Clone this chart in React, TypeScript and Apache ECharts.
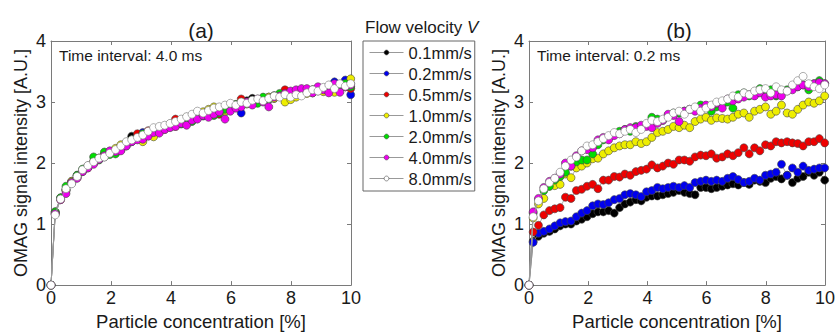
import React, { useEffect, useRef } from "react";
import * as echarts from "echarts";

const xs = [0, 0.14, 0.32, 0.5, 0.69, 0.87, 1.05, 1.23, 1.42, 1.6, 1.78, 1.96, 2.15, 2.33, 2.51, 2.69, 2.88, 3.06, 3.24, 3.42, 3.61, 3.79, 3.97, 4.15, 4.34, 4.52, 4.7, 4.88, 5.07, 5.25, 5.43, 5.61, 5.8, 5.98, 6.16, 6.34, 6.53, 6.71, 6.89, 7.07, 7.26, 7.44, 7.62, 7.8, 7.99, 8.17, 8.35, 8.53, 8.72, 8.9, 9.08, 9.26, 9.45, 9.63, 9.81, 9.99];

const seriesNames = ["0.1mm/s", "0.2mm/s", "0.5mm/s", "1.0mm/s", "2.0mm/s", "4.0mm/s", "8.0mm/s"];
const seriesColors = ["#000000", "#0000ee", "#ee0000", "#eeee00", "#00dd00", "#ee00ee", "#ffffff"];

// Panel (a): time interval 4.0 ms
const a01 = [0, 1.2, 1.43, 1.57, 1.7, 1.8, 1.86, 1.95, 2.0, 2.08, 2.1, 2.18, 2.2, 2.26, 2.33, 2.44, 2.41, 2.46, 2.52, 2.5, 2.56, 2.6, 2.6, 2.66, 2.65, 2.7, 2.75, 2.74, 2.8, 2.8, 2.85, 2.84, 2.9, 2.92, 2.95, 2.97, 3.02, 3.06, 3.0, 3.05, 3.04, 3.1, 3.12, 3.1, 3.15, 3.14, 3.18, 3.17, 3.2, 3.23, 3.2, 3.26, 3.24, 3.28, 3.25, 3.3];
const a02 = [0, 1.17, 1.42, 1.55, 1.67, 1.79, 1.88, 1.93, 2.02, 2.06, 2.13, 2.16, 2.21, 2.28, 2.3, 2.35, 2.42, 2.5, 2.47, 2.53, 2.55, 2.6, 2.59, 2.63, 2.68, 2.66, 2.72, 2.78, 2.77, 2.8, 2.83, 2.88, 2.85, 2.92, 2.93, 2.82, 2.97, 3.0, 3.03, 3.02, 3.08, 3.06, 3.1, 3.13, 3.12, 3.17, 3.14, 3.2, 3.18, 3.22, 3.2, 3.26, 3.33, 3.24, 3.36, 3.12];
const a05 = [0, 1.19, 1.41, 1.56, 1.69, 1.77, 1.88, 1.95, 2.0, 2.07, 2.14, 2.17, 2.21, 2.26, 2.32, 2.37, 2.48, 2.46, 2.53, 2.5, 2.57, 2.6, 2.63, 2.72, 2.66, 2.7, 2.74, 2.78, 2.8, 2.84, 2.82, 2.8, 2.9, 2.93, 2.92, 3.05, 2.99, 3.02, 3.04, 3.06, 3.05, 3.1, 3.12, 3.2, 3.15, 3.17, 3.14, 3.2, 3.16, 3.22, 3.18, 3.24, 3.22, 3.26, 3.25, 3.22];
const a10 = [0, 1.16, 1.4, 1.55, 1.7, 1.76, 1.87, 1.92, 2.03, 2.08, 2.14, 2.19, 2.24, 2.3, 2.34, 2.38, 2.4, 2.35, 2.45, 2.43, 2.58, 2.55, 2.64, 2.6, 2.7, 2.75, 2.78, 2.82, 2.84, 2.88, 2.92, 2.88, 2.85, 2.94, 2.96, 3.0, 2.97, 3.0, 2.99, 3.03, 3.08, 3.06, 3.1, 3.0, 3.04, 3.08, 3.12, 3.14, 3.15, 3.18, 3.17, 3.2, 3.16, 3.25, 3.3, 3.38];
const a20 = [0, 1.2, 1.43, 1.62, 1.68, 1.8, 1.9, 1.95, 2.1, 2.05, 2.18, 2.14, 2.15, 2.22, 2.28, 2.38, 2.4, 2.48, 2.46, 2.55, 2.53, 2.58, 2.62, 2.65, 2.64, 2.7, 2.68, 2.75, 2.78, 2.85, 2.78, 2.82, 2.88, 2.92, 2.96, 2.95, 2.98, 3.02, 2.98, 3.08, 3.05, 3.1, 3.14, 3.12, 3.16, 3.12, 3.18, 3.16, 3.2, 3.22, 3.22, 3.24, 3.26, 3.28, 3.3, 3.25];
const a40 = [0, 1.17, 1.4, 1.5, 1.68, 1.75, 1.86, 1.92, 1.98, 2.06, 2.12, 2.2, 2.19, 2.2, 2.28, 2.35, 2.38, 2.39, 2.44, 2.5, 2.49, 2.55, 2.58, 2.6, 2.65, 2.62, 2.7, 2.72, 2.78, 2.75, 2.8, 2.84, 2.72, 2.85, 2.9, 2.92, 3.0, 2.95, 3.05, 3.0, 2.92, 3.08, 3.1, 3.14, 3.18, 3.2, 3.22, 3.22, 3.15, 3.25, 3.2, 3.15, 3.3, 3.16, 3.25, 3.28];
const a80 = [0, 1.15, 1.41, 1.58, 1.66, 1.78, 1.89, 1.96, 2.02, 2.08, 2.1, 2.16, 2.22, 2.28, 2.35, 2.38, 2.42, 2.46, 2.52, 2.58, 2.6, 2.62, 2.65, 2.68, 2.72, 2.76, 2.8, 2.85, 2.82, 2.86, 2.9, 2.92, 2.95, 2.98, 2.95, 3.0, 2.98, 3.03, 3.05, 3.02, 3.06, 3.1, 3.08, 3.12, 3.08, 3.12, 3.1, 3.15, 3.2, 3.18, 3.24, 3.28, 3.22, 3.3, 3.26, 3.3];

// Panel (b): time interval 0.2 ms
const b01 = [0, 0.72, 0.8, 0.85, 0.88, 0.92, 0.97, 1.0, 1.0, 1.05, 1.08, 1.12, 1.17, 1.2, 1.2, 1.22, 1.18, 1.27, 1.33, 1.36, 1.4, 1.38, 1.44, 1.46, 1.46, 1.48, 1.5, 1.52, 1.55, 1.52, 1.5, 1.48, 1.6, 1.6, 1.58, 1.6, 1.62, 1.64, 1.66, 1.64, 1.68, 1.65, 1.72, 1.7, 1.68, 1.75, 1.78, 1.74, 1.8, 1.68, 1.75, 1.78, 1.85, 1.8, 1.85, 1.72];
const b02 = [0, 0.7, 0.85, 0.88, 0.92, 0.97, 1.02, 1.04, 1.05, 1.12, 1.18, 1.22, 1.3, 1.33, 1.32, 1.35, 1.4, 1.42, 1.48, 1.5, 1.48, 1.45, 1.53, 1.55, 1.6, 1.58, 1.6, 1.62, 1.6, 1.63, 1.6, 1.68, 1.7, 1.72, 1.7, 1.72, 1.7, 1.75, 1.78, 1.73, 1.68, 1.7, 1.75, 1.72, 1.8, 1.82, 1.85, 1.98, 1.8, 1.92, 1.85, 1.95, 1.88, 1.9, 1.92, 1.92];
const b05 = [0, 0.87, 0.98, 1.15, 1.22, 1.25, 1.27, 1.44, 1.42, 1.55, 1.57, 1.62, 1.65, 1.58, 1.72, 1.72, 1.78, 1.77, 1.82, 1.8, 1.86, 1.88, 1.9, 1.97, 1.92, 1.95, 2.0, 1.98, 2.05, 2.05, 2.03, 2.1, 2.13, 2.12, 2.15, 2.08, 2.1, 2.15, 2.12, 2.17, 2.25, 2.15, 2.25, 2.2, 2.3, 2.28, 2.35, 2.33, 2.35, 2.33, 2.32, 2.28, 2.35, 2.35, 2.4, 2.33];
const b10 = [0, 1.1, 1.33, 1.42, 1.62, 1.63, 1.65, 1.82, 1.76, 1.92, 1.95, 2.0, 2.07, 2.08, 2.15, 2.2, 2.25, 2.28, 2.3, 2.3, 2.35, 2.32, 2.35, 2.42, 2.5, 2.52, 2.55, 2.6, 2.58, 2.62, 2.58, 2.68, 2.72, 2.75, 2.7, 2.74, 2.73, 2.72, 2.75, 2.8, 2.82, 2.75, 2.85, 2.88, 2.92, 2.8, 2.85, 2.95, 2.82, 2.8, 2.88, 2.95, 3.0, 2.98, 3.02, 3.1];
const b20 = [0, 1.18, 1.4, 1.55, 1.62, 1.72, 1.78, 1.85, 1.95, 2.02, 2.05, 2.05, 2.15, 2.3, 2.38, 2.42, 2.48, 2.52, 2.55, 2.52, 2.6, 2.58, 2.62, 2.75, 2.72, 2.7, 2.78, 2.82, 2.82, 2.85, 2.88, 2.9, 2.95, 2.92, 2.85, 2.92, 2.95, 3.0, 2.9, 3.12, 3.15, 3.1, 3.12, 3.22, 3.12, 3.2, 3.1, 3.18, 3.2, 3.22, 3.25, 3.28, 3.2, 3.3, 3.35, 3.3];
const b40 = [0, 1.2, 1.42, 1.6, 1.7, 1.75, 1.82, 2.0, 1.95, 2.12, 2.2, 2.22, 2.25, 2.38, 2.42, 2.38, 2.45, 2.48, 2.55, 2.58, 2.58, 2.62, 2.6, 2.58, 2.65, 2.7, 2.8, 2.78, 2.68, 2.85, 2.88, 2.85, 2.9, 2.95, 2.92, 2.98, 2.9, 3.05, 3.02, 3.05, 3.08, 3.12, 3.1, 3.15, 3.08, 3.1, 3.12, 3.1, 3.18, 3.2, 3.25, 3.28, 3.25, 3.3, 3.32, 3.3];
const b80 = [0, 1.12, 1.38, 1.58, 1.68, 1.75, 1.85, 1.95, 2.05, 2.1, 2.2, 2.28, 2.3, 2.35, 2.4, 2.45, 2.5, 2.48, 2.52, 2.55, 2.5, 2.55, 2.65, 2.7, 2.68, 2.72, 2.75, 2.82, 2.85, 2.8, 2.88, 2.92, 2.85, 2.9, 2.95, 3.0, 3.02, 3.05, 3.1, 3.08, 3.15, 3.12, 3.18, 3.2, 3.22, 3.15, 3.25, 3.2, 3.18, 3.28, 3.35, 3.42, 3.3, 3.25, 3.22, 3.28];

const panelA = [a01, a02, a05, a10, a20, a40, a80];
const panelB = [b01, b02, b05, b10, b20, b40, b80];

const xTicks = { min: 0, max: 10, interval: 2 };
const yTicks = { min: 0, max: 4, interval: 1 };

const FONT = "Liberation Sans, Arial, sans-serif";
const AXIS_COLOR = "#7a7a7a";
const TEXT_COLOR = "#1a1a1a";

function makeAxes(gridIndex: number) {
  const base = {
    gridIndex,
    type: "value" as const,
    splitLine: { show: false },
    axisLine: { show: true, onZero: false, lineStyle: { color: AXIS_COLOR, width: 1 } },
    axisTick: { show: true, inside: true, length: 4, lineStyle: { color: AXIS_COLOR } },
  };
  const xAxes = [
    {
      ...base,
      ...xTicks,
      position: "bottom",
      axisLabel: { fontSize: 18, color: TEXT_COLOR, margin: 4, fontFamily: FONT },
      name: "Particle concentration [%]",
      nameLocation: "middle",
      nameGap: 22,
      nameTextStyle: { fontSize: 18.5, color: TEXT_COLOR, fontFamily: FONT },
    },
    { ...base, ...xTicks, position: "top", axisLabel: { show: false } },
  ];
  const yAxes = [
    {
      ...base,
      ...yTicks,
      position: "left",
      axisLabel: { fontSize: 18, color: TEXT_COLOR, margin: 5, fontFamily: FONT },
      name: "OMAG signal intensity [A.U.]",
      nameLocation: "middle",
      nameGap: 21,
      nameTextStyle: { fontSize: 18, color: TEXT_COLOR, fontFamily: FONT },
    },
    { ...base, ...yTicks, position: "right", axisLabel: { show: false } },
  ];
  return { xAxes, yAxes };
}

function makeSeries(panel: number[][], gridIndex: number) {
  return panel.map((ys, k) => ({
    name: seriesNames[k],
    type: "line",
    xAxisIndex: gridIndex * 2,
    yAxisIndex: gridIndex * 2,
    data: xs.map((x, i) => [x, ys[i]]),
    symbol: "circle",
    symbolSize: 8,
    showSymbol: true,
    showAllSymbol: true,
    z: 2 + k,
    lineStyle: { color: k === 0 ? "#555" : "#999", width: 0.8 },
    itemStyle: {
      color: seriesColors[k],
      borderColor: k === 6 ? "#777" : "#444",
      borderWidth: 0.6,
    },
  }));
}

export default function App() {
  const ref = useRef<HTMLDivElement>(null);
  useEffect(() => {
    if (!ref.current) return;
    const chart = echarts.init(ref.current, null, { renderer: "svg" });
    const a = makeAxes(0);
    const b = makeAxes(1);
    chart.setOption({
      animation: false,
      backgroundColor: "#ffffff",
      textStyle: { fontFamily: FONT },
      grid: [
        { left: 51, top: 41, width: 300, height: 253 },
        { left: 529, top: 41, width: 301, height: 252 },
      ],
      xAxis: [...a.xAxes, ...b.xAxes],
      yAxis: [...a.yAxes, ...b.yAxes],
      legend: {
        show: true,
        data: seriesNames,
        orient: "vertical",
        left: 363,
        top: 41,
        itemWidth: 34,
        itemHeight: 6,
        itemGap: 4,
        padding: [3, 3, 4, 6],
        borderColor: "#666",
        borderWidth: 1,
        backgroundColor: "#fff",
        lineStyle: { color: "#999", width: 1 },
        itemStyle: { borderColor: "#444", borderWidth: 0.6 },
        textStyle: { fontSize: 16.5, color: TEXT_COLOR, fontFamily: FONT },
      },
      graphic: [
        {
          type: "text",
          left: 365,
          top: 19,
          style: {
            text: "{n|Flow velocity }{v|V}",
            rich: {
              n: { fontSize: 17, fill: TEXT_COLOR, fontFamily: FONT },
              v: { fontSize: 17, fill: TEXT_COLOR, fontFamily: FONT, fontStyle: "italic" },
            },
          },
        },
        {
          type: "text",
          x: 201,
          y: 30,
          style: { text: "(a)", fontSize: 21, fill: TEXT_COLOR, fontFamily: FONT, textAlign: "center", textVerticalAlign: "middle" },
        },
        {
          type: "text",
          x: 679,
          y: 30,
          style: { text: "(b)", fontSize: 21, fill: TEXT_COLOR, fontFamily: FONT, textAlign: "center", textVerticalAlign: "middle" },
        },
        {
          type: "text",
          x: 59,
          y: 55,
          style: { text: "Time interval: 4.0 ms", fontSize: 15.5, fill: TEXT_COLOR, fontFamily: FONT, textVerticalAlign: "middle" },
        },
        {
          type: "text",
          x: 537,
          y: 55,
          style: { text: "Time interval: 0.2 ms", fontSize: 15.5, fill: TEXT_COLOR, fontFamily: FONT, textVerticalAlign: "middle" },
        },
      ],
      series: [...makeSeries(panelA, 0), ...makeSeries(panelB, 1)],
    });
    return () => chart.dispose();
  }, []);
  return (
    <div
      ref={ref}
      style={{ position: "fixed", left: 0, top: 0, width: 838, height: 336, background: "#fff" }}
    />
  );
}
